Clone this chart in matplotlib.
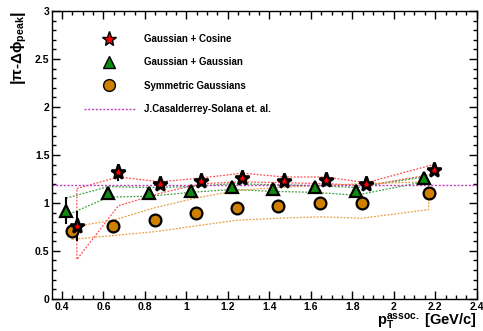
import numpy as np
import matplotlib
matplotlib.use("Agg")
import matplotlib.pyplot as plt
from matplotlib.ticker import MultipleLocator, FuncFormatter

plt.rcParams['font.family'] = ['Liberation Sans', 'DejaVu Sans']
plt.rcParams['font.weight'] = 'bold'
plt.rcParams['mathtext.fontset'] = 'custom'
plt.rcParams['mathtext.rm'] = 'Liberation Sans:bold'
plt.rcParams['mathtext.it'] = 'Liberation Sans:bold'
plt.rcParams['mathtext.bf'] = 'Liberation Sans:bold'
plt.rcParams['mathtext.sf'] = 'Liberation Sans:bold'

# Gaussian + Cosine
x_cos = [0.472, 0.672, 0.872, 1.072, 1.269, 1.472, 1.672, 1.867, 2.192]
y_cos = [0.76, 1.32, 1.20, 1.23, 1.26, 1.23, 1.24, 1.20, 1.34]
e_cos = [0.155, 0.09, 0.03, 0.03, 0.03, 0.03, 0.03, 0.03, 0.03]
up_cos = [1.15, 1.27, 1.22, 1.26, 1.31, 1.27, 1.27, 1.21, 1.40]
lo_cos = [0.41, 0.97, 1.10, 1.20, 1.22, 1.21, 1.20, 1.18, 1.30]

# Gaussian + Gaussian
x_gg = [0.421, 0.624, 0.821, 1.024, 1.22, 1.42, 1.62, 1.819, 2.144]
y_gg = [0.92, 1.10, 1.10, 1.12, 1.17, 1.15, 1.17, 1.12, 1.26]
e_gg = [0.14, 0.02, 0.02, 0.02, 0.02, 0.02, 0.02, 0.02, 0.02]
up_gg = [1.05, 1.17, 1.16, 1.17, 1.20, 1.19, 1.18, 1.16, 1.27]
lo_gg = [0.87, 1.06, 1.07, 1.11, 1.14, 1.12, 1.11, 1.08, 1.22]

# Symmetric Gaussians
x_sym = [0.448, 0.648, 0.848, 1.045, 1.245, 1.44, 1.645, 1.845, 2.168]
y_sym = [0.71, 0.76, 0.82, 0.89, 0.95, 0.97, 1.00, 1.00, 1.10]
up_sym = [0.75, 0.82, 0.95, 1.05, 1.13, 1.16, 1.18, 1.20, 1.22]
lo_sym = [0.62, 0.66, 0.70, 0.76, 0.82, 0.84, 0.855, 0.84, 0.93]

casal_value = 1.19

fig = plt.figure(figsize=(4.83, 3.31), dpi=100)
ax = fig.add_axes([0.108, 0.097, 0.879, 0.870])

dash = (0, (1.5, 1.2))
def band(xs, up, lo, color):
    xx = list(xs) + list(xs[::-1]) + [xs[0]]
    yy = list(up) + list(lo[::-1]) + [up[0]]
    ax.plot(xx, yy, color=color, lw=0.9, linestyle=dash, zorder=2)

band(x_cos, up_cos, lo_cos, '#ff5050')
band(x_gg, up_gg, lo_gg, '#40a040')
band(x_sym, up_sym, lo_sym, '#e8a040')

ax.axhline(casal_value, color='#c040c0', lw=1.0, linestyle=dash, zorder=2,
           label='J.Casalderrey-Solana et. al.')

ax.plot(x_sym, y_sym, 'o', ms=8.5, mfc='#d08000', mec='black', mew=1.6, zorder=4,
        label='Symmetric Gaussians', linestyle='none')
ax.errorbar(x_gg, y_gg, yerr=e_gg, fmt='none', ecolor='black', elinewidth=1.5, zorder=3)
ax.plot(x_gg, y_gg, '^', ms=9, mfc='#108a10', mec='black', mew=1.6, zorder=5,
        label='Gaussian + Gaussian', linestyle='none')
ax.errorbar(x_cos, y_cos, yerr=e_cos, fmt='none', ecolor='black', elinewidth=1.5, zorder=3)
ax.plot(x_cos, y_cos, '*', ms=11, mfc='red', mec='black', mew=1.9, zorder=6,
        label='Gaussian + Cosine', linestyle='none')

ax.set_xlim(0.353, 2.4)
ax.set_ylim(0, 3)

ax.xaxis.set_major_locator(MultipleLocator(0.2))
ax.xaxis.set_minor_locator(MultipleLocator(0.05))
ax.yaxis.set_major_locator(MultipleLocator(0.5))
ax.yaxis.set_minor_locator(MultipleLocator(0.1))
fmt = FuncFormatter(lambda v, p: '%g' % round(v, 3))
ax.xaxis.set_major_formatter(fmt)
ax.yaxis.set_major_formatter(fmt)
ax.tick_params(which='both', direction='in', top=True, right=True, labelsize=7.5, width=1)
ax.tick_params(which='major', length=6)
ax.tick_params(which='minor', length=3)
ax.tick_params(axis='x', pad=2)
ax.tick_params(axis='y', pad=2)
for s in ax.spines.values():
    s.set_linewidth(1)

ax.set_ylabel(r'$\left|\pi\text{-}\Delta\phi_{\mathbf{peak}}\right|$', fontsize=11, loc='top', labelpad=4)
ax.set_xlabel(r'$\mathbf{p}_{\mathbf{T}}^{\mathbf{assoc.}}$ [GeV/c]', fontsize=10.5, loc='right',
              labelpad=0, fontweight='bold')

h, l = ax.get_legend_handles_labels()
order = [3, 2, 1, 0]
leg = ax.legend([h[i] for i in order], [l[i] for i in order], loc='upper left',
                bbox_to_anchor=(0.075, 0.92), frameon=False, fontsize=7,
                handlelength=5.2, handletextpad=1.0, labelspacing=1.38,
                borderpad=0, borderaxespad=0, numpoints=1, markerscale=1.0)
for t in leg.get_texts():
    t.set_fontweight('bold')
for lh in leg.legend_handles[:3]:
    lh.set_markeredgewidth(1.0)

fig.savefig('out.png', dpi=100)
